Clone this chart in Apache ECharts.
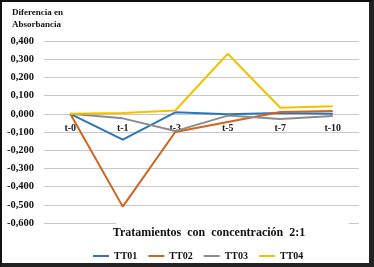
<!DOCTYPE html>
<html><head><meta charset="utf-8">
<script src="https://cdn.jsdelivr.net/npm/echarts@6/dist/echarts.min.js"></script>
<style>
html,body{margin:0;padding:0;background:#fff;}
#frame{position:absolute;left:0;top:0;width:374px;height:267px;box-sizing:border-box;border-left:2px solid #111;border-top:2px solid #111;border-right:5px solid #222;border-bottom:4px solid #222;}
#c{position:absolute;left:0;top:0;width:374px;height:267px;}
</style></head>
<body>
<div id="c"></div>
<div id="frame"></div>
<script>
const categories = ['t-0','t-1','t-3','t-5','t-7','t-10'];
const seriesNames = ['TT01','TT02','TT03','TT04'];
const tt01 = [0, -0.142, 0.008, -0.003, 0.005, 0.0];
const tt02 = [0, -0.51, -0.10, -0.045, 0.01, 0.015];
const tt03 = [0, -0.025, -0.095, -0.01, -0.028, -0.012];
const tt04 = [0, 0.005, 0.018, 0.33, 0.033, 0.042];
const yTicks = {min: -0.6, max: 0.4, interval: 0.1};
const colors = ['#2E74B8', '#D0641E', '#8C8C8C', '#F2C200'];
const serif = '"Liberation Serif", "DejaVu Serif", serif';

const chart = echarts.init(document.getElementById('c'), null, {renderer:'canvas'});
const data = [tt01, tt02, tt03, tt04];
chart.setOption({
  animation: false,
  backgroundColor: '#fff',
  grid: {left: 44, right: 15, top: 41, bottom: 44, containLabel: false},
  title: [{
    text: 'Tratamientos  con  concentración  2:1',
    left: 209, top: 227, textAlign: 'center',
    textStyle: {fontFamily: serif, fontWeight: 'bold', fontSize: 12, color: '#111'},
    padding: 0
  },{
    text: 'Diferencia en\nAbsorbancia',
    left: 12, top: 7, padding: 0,
    textStyle: {fontFamily: serif, fontWeight: 'bold', fontSize: 9, color: '#111', lineHeight: 12}
  }],
  graphic: [{
    type: 'rect', left: 116, top: 220, z: 5,
    shape: {width: 233, height: 6}, style: {fill: '#fff'}
  }],
  legend: {
    data: seriesNames, top: 246, itemWidth: 16, itemHeight: 2, itemGap: 11,
    icon: 'rect',
    textStyle: {fontFamily: serif, fontWeight: 'bold', fontSize: 10, color: '#111'},
    left: 88
  },
  xAxis: {
    type: 'category', data: categories, boundaryGap: true,
    offset: -109,
    axisLine: {show: false, onZero: false},
    axisTick: {show: false},
    axisLabel: {fontFamily: serif, fontWeight: 'bold', fontSize: 10, color: '#222', margin: 9},
    splitLine: {show: false}
  },
  yAxis: {
    type: 'value', min: yTicks.min, max: yTicks.max, interval: yTicks.interval,
    axisLine: {show: false}, axisTick: {show: false},
    axisLabel: {fontFamily: serif, fontWeight: 'bold', fontSize: 10.5, color: '#111', margin: 10,
      padding: [5,0,0,0],
      formatter: v => (Math.abs(v) < 1e-9 ? 0 : v).toFixed(3).replace('.', ',')},
    splitLine: {lineStyle: {color: '#c8c8c8', width: 1}}
  },
  series: data.map((d, i) => ({
    name: seriesNames[i], type: 'line', data: d, symbol: 'none',
    lineStyle: {width: 2, color: colors[i]}, itemStyle: {color: colors[i]},
    z: 2 + (i === 3 ? 1 : 0)
  }))
});
</script>
</body></html>
